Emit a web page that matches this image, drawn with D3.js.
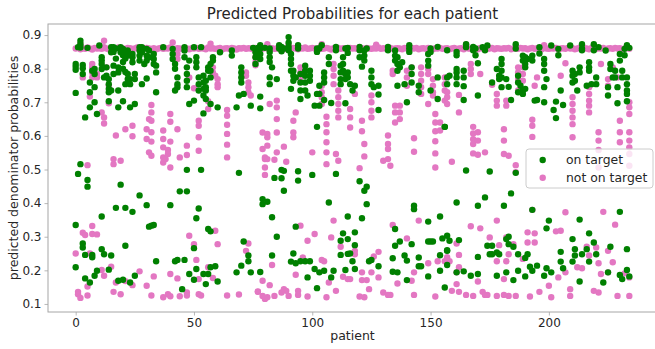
<!DOCTYPE html>
<html>
<head>
<meta charset="utf-8">
<script src="https://cdn.jsdelivr.net/npm/d3@7"></script>
<style>
  html, body { margin: 0; padding: 0; background: #fff; }
  svg { display: block; font-family: "DejaVu Sans", sans-serif; }
</style>
</head>
<body>
<svg id="chart" width="655" height="349"></svg>
<script>
// ---- data: [patient, predicted probability] ----
const title = "Predicted Probabilities for each patient";
const xLabel = "patient";
const yLabel = "predicted denominator probabilities";
const seriesNames = ["on target", "not on target"];
const xTicks = [0, 50, 100, 150, 200];
const yTicks = [0.1, 0.2, 0.3, 0.4, 0.5, 0.6, 0.7, 0.8, 0.9];

// upper cluster of "not on target" predictions, one per patient (index = patient)
const notOnTargetTop = [
  .860,.862,.858,.861,.859,.863,.860,.857,.862,.860,
  .861,.859,.864,.860,.858,.862,.860,.861,.863,.859,
  .860,.858,.862,.861,.859,.860,.863,.860,.857,.861,
  .862,.860,.859,.861,.858,.860,.862,.859,.861,.860,
  .863,.860,.858,.861,.860,.859,.862,.860,.858,.861,
  .860,.862,.859,.861,.860,.858,.863,.860,.861,.859,
  .860,.862,.858,.860,.861,.859,.862,.860,.857,.861,
  .860,.862,.859,.861,.860,.858,.862,.860,.861,.859,
  .862,.860,.858,.861,.859,.860,.862,.861,.858,.860,
  .861,.859,.862,.860,.858,.861,.860,.863,.859,.860,
  .862,.860,.858,.861,.859,.860,.862,.860,.857,.861,
  .860,.862,.859,.861,.860,.858,.862,.860,.861,.859,
  .860,.861,.858,.862,.860,.859,.861,.860,.863,.859,
  .861,.860,.858,.862,.859,.860,.861,.860,.858,.862,
  .860,.859,.861,.860,.862,.858,.860,.861,.859,.862,
  .860,.858,.861,.860,.862,.859,.860,.861,.858,.860,
  .862,.859,.860,.861,.858,.862,.860,.859,.861,.860,
  .858,.862,.860,.861,.859,.860,.862,.858,.861,.860,
  .859,.861,.860,.862,.858,.860,.861,.859,.862,.860,
  .861,.858,.860,.862,.859,.861,.860,.858,.862,.860,
  .859,.861,.860,.862,.858,.860,.861,.859,.862,.860,
  .861,.858,.860,.862,.859,.861,.860,.858,.862,.860,
  .859,.861,.860,.862,.858,.860,.861,.859,.862,.860,
  .861,.858,.860,.862,.859
];

const notOnTarget = [
  [2,.874],[12,.883],[41,.878],[57,.874],[81,.873],[90,.872],[104,.873],[127,.871],[165,.872],[198,.870],
  [3,.774],[6,.717],[7,.814],[7,.804],[7,.789],[7,.774],[9,.784],[9,.774],[11,.670],[12,.655],[12,.637],
  [13,.804],[14,.749],[14,.697],[17,.601],[21,.620],[24,.630],[24,.599],[32,.692],[32,.670],[32,.645],
  [31,.650],[30,.620],[30,.591],[32,.611],[32,.583],[31,.551],[32,.541],[37,.616],[37,.591],[37,.566],
  [39,.558],[37,.536],[37,.521],[39,.546],[38,.531],[40,.506],[40,.665],[40,.642],[40,.583],[43,.844],
  [43,.829],[43,.620],[44,.536],[48,.774],[47,.571],[47,.543],[50,.742],[52,.645],[52,.630],[52,.596],
  [52,.556],[56,.703],[56,.680],[58,.804],[58,.789],[59,.779],[60,.769],[60,.754],[60,.745],[64,.677],
  [64,.660],[64,.633],[64,.606],[64,.574],[64,.536],[72,.789],[72,.779],[73,.759],[73,.745],[73,.730],[74,.720],
  [5,.513],[16,.531],[16,.516],[19,.526],[7,.332],[7,.308],[9,.307],[3,.312],[4,.305],[48,.303],[59,.318],
  [50,.278],[60,.278],[73,.280],[72,.258],[0,.250],[6,.250],[51,.231],[56,.209],[58,.177],[52,.174],[11,.201],
  [15,.211],[27,.197],[33,.182],[40,.189],[43,.176],[12,.184],[5,.152],[1,.136],[1,.129],[2,.118],[5,.125],
  [16,.136],[19,.129],[17,.164],[21,.168],[24,.156],[30,.154],[32,.125],[37,.120],[39,.129],[40,.123],
  [44,.123],[47,.134],[47,.125],[52,.129],[53,.125],[64,.125],[69,.128],[77,.137],
  [76,.834],[76,.819],[76,.810],[95,.804],[95,.789],[95,.774],[104,.749],[104,.730],[104,.715],[104,.695],
  [109,.814],[109,.799],[109,.779],[109,.754],[111,.735],[111,.715],[111,.695],[111,.675],[111,.655],[118,.725],
  [125,.720],[125,.700],[125,.675],[125,.655],[134,.794],[134,.784],[140,.794],[140,.774],[140,.749],[142,.804],
  [146,.804],[146,.784],[146,.764],[146,.745],[146,.725],[149,.799],[149,.784],[151,.769],[151,.749],[151,.730],
  [151,.720],[156,.774],[156,.754],[156,.735],[156,.705],
  [82,.695],[85,.705],[85,.685],[85,.650],[79,.610],[81,.606],[81,.596],[85,.610],[79,.561],[81,.571],[80,.536],
  [80,.531],[81,.531],[85,.551],[84,.529],[80,.506],[80,.484],[89,.523],[88,.568],[92,.645],[92,.610],[92,.596],
  [93,.670],[100,.551],[106,.657],[106,.635],[106,.611],[106,.581],[106,.551],[106,.516],[110,.546],[111,.526],
  [116,.680],[116,.655],[116,.625],[121,.645],[121,.614],[122,.576],[122,.539],[120,.504],[132,.601],[132,.576],
  [132,.561],[132,.531],[130,.526],[133,.511],[135,.690],[135,.670],[135,.640],[137,.690],[137,.670],[137,.650],
  [143,.593],[143,.553],[149,.695],[152,.665],[152,.640],[152,.614],[152,.584],[152,.548],[152,.506],[154,.640],[154,.616],
  [95,.333],[101,.308],[98,.288],[109,.348],[108,.298],[112,.270],[118,.258],[118,.248],[128,.255],[126,.241],
  [134,.335],[145,.348],[140,.295],[96,.238],[104,.231],[105,.227],[83,.216],[93,.187],[79,.169],[82,.156],
  [88,.144],[89,.139],[87,.134],[94,.139],[94,.127],[77,.136],[79,.124],[80,.115],[81,.120],[84,.124],[90,.124],
  [98,.122],[106,.120],[110,.139],[107,.164],[113,.181],[115,.174],[116,.174],[121,.194],[121,.171],[123,.171],
  [125,.194],[120,.122],[122,.120],[124,.144],[128,.179],[130,.134],[132,.127],[133,.127],[136,.161],[143,.127],
  [142,.169],[149,.221],[153,.227],[156,.227],[143,.194],[152,.122],
  [157,.730],[157,.715],[157,.695],[162,.722],[162,.670],[167,.814],[167,.799],[167,.784],[171,.784],[176,.752],
  [178,.725],[178,.705],[178,.690],[182,.705],[182,.690],[187,.804],[187,.789],[187,.769],[187,.735],[189,.804],
  [189,.784],[189,.764],[190,.829],[194,.749],[195,.774],[205,.779],[207,.816],[210,.715],[210,.695],[210,.675],
  [210,.655],[210,.635],[217,.745],[217,.725],[217,.705],[217,.690],[217,.670],[222,.814],[225,.769],[225,.749],
  [227,.804],[229,.774],[230,.645],[234,.700],[234,.685],[234,.665],[193,.648],[193,.630],[193,.597],
  [168,.627],[168,.607],[168,.590],[168,.576],[168,.548],[170,.611],[170,.586],[170,.544],[173,.551],[181,.620],
  [181,.586],[181,.546],[183,.541],[186,.513],[186,.492],[159,.523],[210,.596],[221,.611],[221,.586],[221,.558],
  [221,.506],[230,.611],[230,.581],[234,.611],[234,.586],[234,.566],[234,.546],[234,.511],
  [167,.331],[171,.325],[178,.348],[193,.380],[207,.373],[205,.318],[203,.316],[223,.374],[228,.336],[194,.310],
  [191,.283],[194,.283],[185,.278],[183,.248],[182,.298],[179,.275],[162,.246],[157,.239],[158,.227],[162,.209],
  [161,.194],[161,.159],[159,.139],[162,.136],[165,.127],[168,.124],[172,.136],[173,.127],[174,.127],[178,.227],
  [181,.174],[182,.227],[183,.124],[186,.124],[189,.234],[192,.122],[196,.136],[200,.154],[201,.120],[204,.179],
  [207,.194],[209,.144],[209,.124],[212,.209],[214,.206],[216,.270],[217,.244],[220,.268],[221,.221],[219,.139],
  [221,.134],[225,.258],[227,.224],[222,.189],[225,.194],[229,.124],[234,.124],[234,.179],[232,.191],[161,.280],
  [170,.167],[181,.127],[178,.124],[175,.298],[191,.313]
];

const onTarget = [
  [0,.814],[0,.806],[0,.797],[0,.728],[1,.864],[2,.883],[2,.873],[2,.863],[3,.811],[3,.801],[3,.784],[4,.655],
  [5,.862],[6,.759],[6,.730],[6,.685],[7,.794],[8,.799],[8,.784],[8,.745],[8,.700],[9,.665],[10,.869],
  [11,.834],[11,.824],[11,.814],[11,.799],[12,.774],[13,.804],[13,.779],[14,.769],[14,.754],[14,.740],[14,.730],
  [14,.703],[15,.864],[15,.849],[15,.735],[16,.864],[16,.850],[16,.809],[16,.784],[17,.830],[17,.860],
  [18,.804],[18,.789],[18,.735],[18,.685],[19,.864],[19,.849],[20,.859],[20,.840],[20,.820],[20,.800],[20,.703],
  [21,.850],[21,.830],[21,.790],[21,.754],[22,.854],[22,.839],[22,.784],[22,.769],[23,.769],[23,.754],[23,.685],
  [24,.844],[24,.834],[24,.819],[25,.784],[25,.769],[25,.695],[27,.864],[27,.854],[27,.839],[27,.824],
  [28,.864],[28,.849],[28,.754],[29,.814],[30,.859],[30,.839],[30,.824],[30,.771],[31,.854],[31,.834],
  [33,.844],[33,.829],[33,.814],[34,.809],[34,.789],[34,.730],[37,.864],[41,.859],[41,.844],[41,.829],
  [42,.814],[42,.800],[42,.735],[43,.774],[43,.754],[43,.745],[46,.864],[46,.854],[46,.834],
  [47,.804],[47,.784],[47,.764],[47,.745],[48,.824],[48,.695],[50,.864],[50,.705],[51,.834],[51,.819],[51,.804],
  [52,.774],[52,.754],[52,.735],[53,.864],[54,.779],[54,.759],[54,.740],[54,.720],[54,.667],
  [55,.764],[55,.745],[55,.735],[55,.710],[56,.804],[56,.794],[57,.814],[57,.794],[57,.774],[57,.695],
  [58,.834],[58,.824],[60,.685],[61,.849],[66,.854],[66,.839],[68,.685],[69,.720],
  [70,.804],[70,.789],[70,.774],[70,.759],[71,.725],[74,.690],[75,.862],[76,.849],[76,.834],[76,.814],[77,.862],
  [2,.516],[1,.487],[5,.469],[5,.449],[19,.455],[27,.423],[17,.386],[21,.386],[24,.374],[30,.394],[40,.394],
  [44,.435],[47,.435],[52,.384],[51,.355],[11,.360],[0,.335],[31,.330],[32,.333],[33,.335],[56,.323],[57,.316],
  [3,.280],[3,.268],[21,.273],[50,.266],[4,.246],[7,.246],[7,.239],[11,.263],[12,.248],[15,.244],[0,.209],
  [9,.199],[14,.202],[34,.227],[42,.227],[43,.231],[46,.231],[51,.204],[57,.209],[59,.212],[70,.214],[68,.194],
  [71,.286],[73,.244],[73,.227],[74,.194],[8,.184],[4,.176],[6,.164],[18,.169],[20,.172],[23,.164],[25,.184],
  [48,.189],[50,.172],[54,.189],[56,.189],[55,.159],[60,.167],[45,.144],[47,.499],[53,.499],[69,.490],
  [77,.850],[78,.870],[78,.860],[78,.844],[78,.829],[78,.717],[78,.682],[80,.862],
  [82,.860],[82,.850],[82,.834],[82,.820],[82,.774],[82,.754],[83,.804],[85,.769],[86,.870],[86,.860],
  [87,.865],[87,.852],[88,.860],[90,.894],[90,.877],[90,.865],[90,.855],[91,.844],[91,.829],[91,.814],[91,.794],
  [91,.740],[92,.794],[92,.779],[92,.764],[93,.774],[94,.870],[94,.860],[95,.784],[95,.759],[95,.735],[95,.710],
  [97,.809],[97,.794],[97,.779],[97,.759],[97,.735],[98,.720],[99,.794],[99,.779],[99,.764],[101,.690],
  [102,.860],[102,.850],[102,.725],[102,.627],[103,.860],[103,.749],[103,.725],[103,.690],[104,.870],
  [105,.789],[105,.774],[105,.759],[105,.707],[107,.834],[107,.814],[108,.698],[110,.865],[110,.855],
  [112,.809],[112,.789],[112,.769],[112,.754],[113,.834],[113,.814],[113,.794],[114,.860],[114,.784],[114,.769],
  [114,.697],[115,.862],[115,.847],[115,.789],[115,.774],[116,.754],[117,.735],[118,.749],[120,.865],[120,.855],
  [120,.834],[121,.806],[122,.854],[122,.839],[122,.824],[123,.860],[125,.794],[125,.774],[125,.754],[126,.745],
  [128,.749],[128,.723],[128,.677],[132,.865],[132,.855],[135,.854],[135,.839],[135,.824],[136,.834],[136,.814],
  [136,.794],[136,.749],[137,.804],[138,.819],[139,.754],[140,.700],[141,.870],[141,.860],[141,.850],
  [142,.804],[142,.784],[142,.759],[145,.749],[145,.730],[149,.844],[149,.824],[149,.809],[150,.860],[150,.850],
  [150,.735],[153,.865],[153,.774],[153,.710],[156,.627],[157,.855],
  [87,.499],[88,.496],[84,.475],[87,.474],[88,.437],[94,.495],[94,.467],[100,.484],[110,.487],[120,.465],
  [123,.449],[122,.437],[79,.412],[79,.397],[81,.404],[107,.402],[123,.397],[143,.392],[143,.382],[83,.358],
  [93,.330],[115,.360],[121,.355],[149,.345],[154,.360],
  [85,.300],[113,.310],[118,.313],[112,.288],[115,.293],[118,.275],[135,.323],[137,.286],[142,.278],[135,.273],
  [149,.286],[150,.286],[151,.286],[155,.295],[157,.260],[83,.244],[92,.250],[112,.246],[115,.249],[116,.250],
  [91,.226],[93,.221],[95,.227],[97,.227],[99,.227],[117,.227],[124,.227],[125,.231],[128,.212],[134,.236],
  [139,.244],[140,.229],[145,.238],[145,.212],[146,.212],[154,.245],[154,.199],[157,.216],[78,.195],[101,.204],
  [103,.194],[105,.199],[109,.199],[114,.201],[118,.204],[108,.179],[98,.179],[134,.196],[136,.194],[140,.171],
  [149,.182],[102,.147],[156,.149],
  [161,.850],[161,.840],[165,.873],[165,.864],[168,.865],[168,.855],[169,.860],[169,.840],[172,.864],[173,.855],
  [174,.869],[186,.873],[186,.860],[189,.839],[189,.824],[193,.839],[193,.824],[196,.864],[196,.845],[201,.869],
  [204,.859],[204,.840],[209,.869],[214,.873],[214,.860],[214,.855],[219,.873],[219,.855],[221,.864],[224,.854],
  [230,.844],[230,.824],[232,.859],[232,.840],[233,.870],[234,.862],
  [157,.774],[157,.754],[158,.779],[161,.799],[161,.789],[161,.774],[161,.754],[164,.794],[164,.774],[164,.748],
  [164,.707],[170,.816],[170,.720],[176,.759],[178,.799],[179,.779],[179,.769],[180,.829],[180,.814],[180,.794],
  [180,.774],[180,.745],[182,.769],[183,.746],[184,.707],[187,.779],[187,.759],[187,.730],[188,.749],[190,.834],
  [190,.814],[190,.804],[189,.735],[189,.725],[190,.740],[191,.829],[194,.705],[195,.707],[198,.829],[198,.814],
  [198,.794],[198,.745],[198,.700],[199,.769],[203,.702],[203,.653],[205,.735],[206,.692],[202,.677],[210,.794],
  [210,.779],[210,.759],[211,.764],[211,.784],[212,.735],[213,.804],[213,.789],[217,.819],[217,.804],[217,.794],
  [216,.749],[218,.754],[220,.774],[220,.754],[225,.745],[225,.720],[226,.814],[226,.799],[227,.774],[228,.794],
  [228,.774],[229,.745],[229,.697],[231,.794],[231,.774],[233,.774],[233,.754],[233,.735],[233,.725],[233,.703],
  [156,.627],[165,.497],[175,.494],[186,.490],[184,.429],[173,.417],[161,.402],[170,.392],[181,.392],[193,.380],
  [200,.348],[213,.351],[230,.374],[217,.310],[199,.325],
  [157,.303],[158,.288],[162,.290],[157,.258],[161,.194],[164,.197],[167,.184],[170,.189],[170,.240],[176,.273],
  [176,.248],[178,.253],[179,.248],[183,.300],[182,.293],[183,.278],[185,.270],[187,.248],[191,.248],[178,.184],
  [182,.194],[185,.171],[187,.199],[190,.182],[192,.211],[193,.199],[195,.214],[198,.184],[199,.206],[201,.194],
  [205,.255],[205,.226],[206,.206],[210,.293],[211,.263],[211,.244],[210,.226],[214,.248],[216,.263],[217,.226],
  [220,.248],[219,.283],[213,.167],[223,.164],[226,.270],[225,.194],[230,.186],[231,.174],[233,.201],[233,.263],
  [234,.182],[174,.273],[175,.248],[190,.237]
];

// ---- layout ----
const svg = d3.select("#chart");
const plot = { left: 48, top: 24, right: 657, bottom: 312 };
const colors = { on: "#008000", off: "#e377c2" };
const radius = 3.2;

const notOnTargetAll = notOnTargetTop.map((v, i) => [i, v]).concat(notOnTarget);
const allPts = onTarget.concat(notOnTargetAll);

// matplotlib-style 5% data margins
const xExt = d3.extent(allPts, d => d[0]);
const yExt = d3.extent(allPts, d => d[1]);
const xPad = (xExt[1] - xExt[0]) * 0.05;
const yPad = (yExt[1] - yExt[0]) * 0.05;

const x = d3.scaleLinear().domain([xExt[0] - xPad, xExt[1] + xPad]).range([plot.left, plot.right]);
const y = d3.scaleLinear().domain([yExt[0] - yPad, yExt[1] + yPad]).range([plot.bottom, plot.top]);

const axisColor = "#a6a6a6";
const textColor = "#262626";

// points: pink first, green on top
const gPts = svg.append("g");
gPts.selectAll("circle.off").data(notOnTargetAll).join("circle")
  .attr("class", "off")
  .attr("cx", d => x(d[0])).attr("cy", d => y(d[1])).attr("r", radius)
  .attr("fill", colors.off);
gPts.selectAll("circle.on").data(onTarget).join("circle")
  .attr("class", "on")
  .attr("cx", d => x(d[0])).attr("cy", d => y(d[1])).attr("r", radius)
  .attr("fill", colors.on);

// axes
const xAxis = d3.axisBottom(x).tickValues(xTicks).tickSize(3.5).tickPadding(3).tickFormat(d3.format("d"));
const yAxis = d3.axisLeft(y).tickValues(yTicks).tickSize(3.5).tickPadding(3).tickFormat(d3.format(".1f"));

const gx = svg.append("g").attr("transform", `translate(0,${plot.bottom})`).call(xAxis);
const gy = svg.append("g").attr("transform", `translate(${plot.left},0)`).call(yAxis);
[gx, gy].forEach(g => {
  g.select(".domain").remove();
  g.selectAll(".tick line").attr("stroke", axisColor).attr("stroke-width", 0.8);
  g.selectAll(".tick text").attr("fill", textColor).attr("font-size", 12)
    .attr("font-family", "DejaVu Sans, sans-serif");
});
gx.selectAll(".tick text").attr("y", 6).attr("dy", "0.71em");

// frame
svg.append("rect")
  .attr("x", plot.left).attr("y", plot.top)
  .attr("width", plot.right - plot.left).attr("height", plot.bottom - plot.top)
  .attr("fill", "none").attr("stroke", axisColor).attr("stroke-width", 1);

// title and axis labels
svg.append("text").attr("x", (plot.left + plot.right) / 2).attr("y", 19)
  .attr("text-anchor", "middle").attr("font-size", 15).attr("fill", textColor).text(title);
svg.append("text").attr("x", (plot.left + plot.right) / 2).attr("y", 340)
  .attr("text-anchor", "middle").attr("font-size", 12.5).attr("fill", textColor).text(xLabel);
svg.append("text").attr("transform", `translate(18,${(plot.top + plot.bottom) / 2}) rotate(-90)`)
  .attr("text-anchor", "middle").attr("font-size", 12.5).attr("fill", textColor).text(yLabel);

// legend
const lg = svg.append("g").attr("transform", "translate(526,149)");
lg.append("rect").attr("width", 127).attr("height", 39).attr("rx", 3)
  .attr("fill", "#fff").attr("fill-opacity", 0.8).attr("stroke", "#cccccc").attr("stroke-width", 1);
seriesNames.forEach((name, i) => {
  const row = lg.append("g").attr("transform", `translate(0,${11 + i * 17.7})`);
  row.append("circle").attr("cx", 16.7).attr("cy", 0).attr("r", radius)
    .attr("fill", i === 0 ? colors.on : colors.off);
  row.append("text").attr("x", 40).attr("y", 0).attr("dy", "0.32em")
    .attr("font-size", 12.4).attr("fill", textColor).text(name);
});
</script>
</body>
</html>
